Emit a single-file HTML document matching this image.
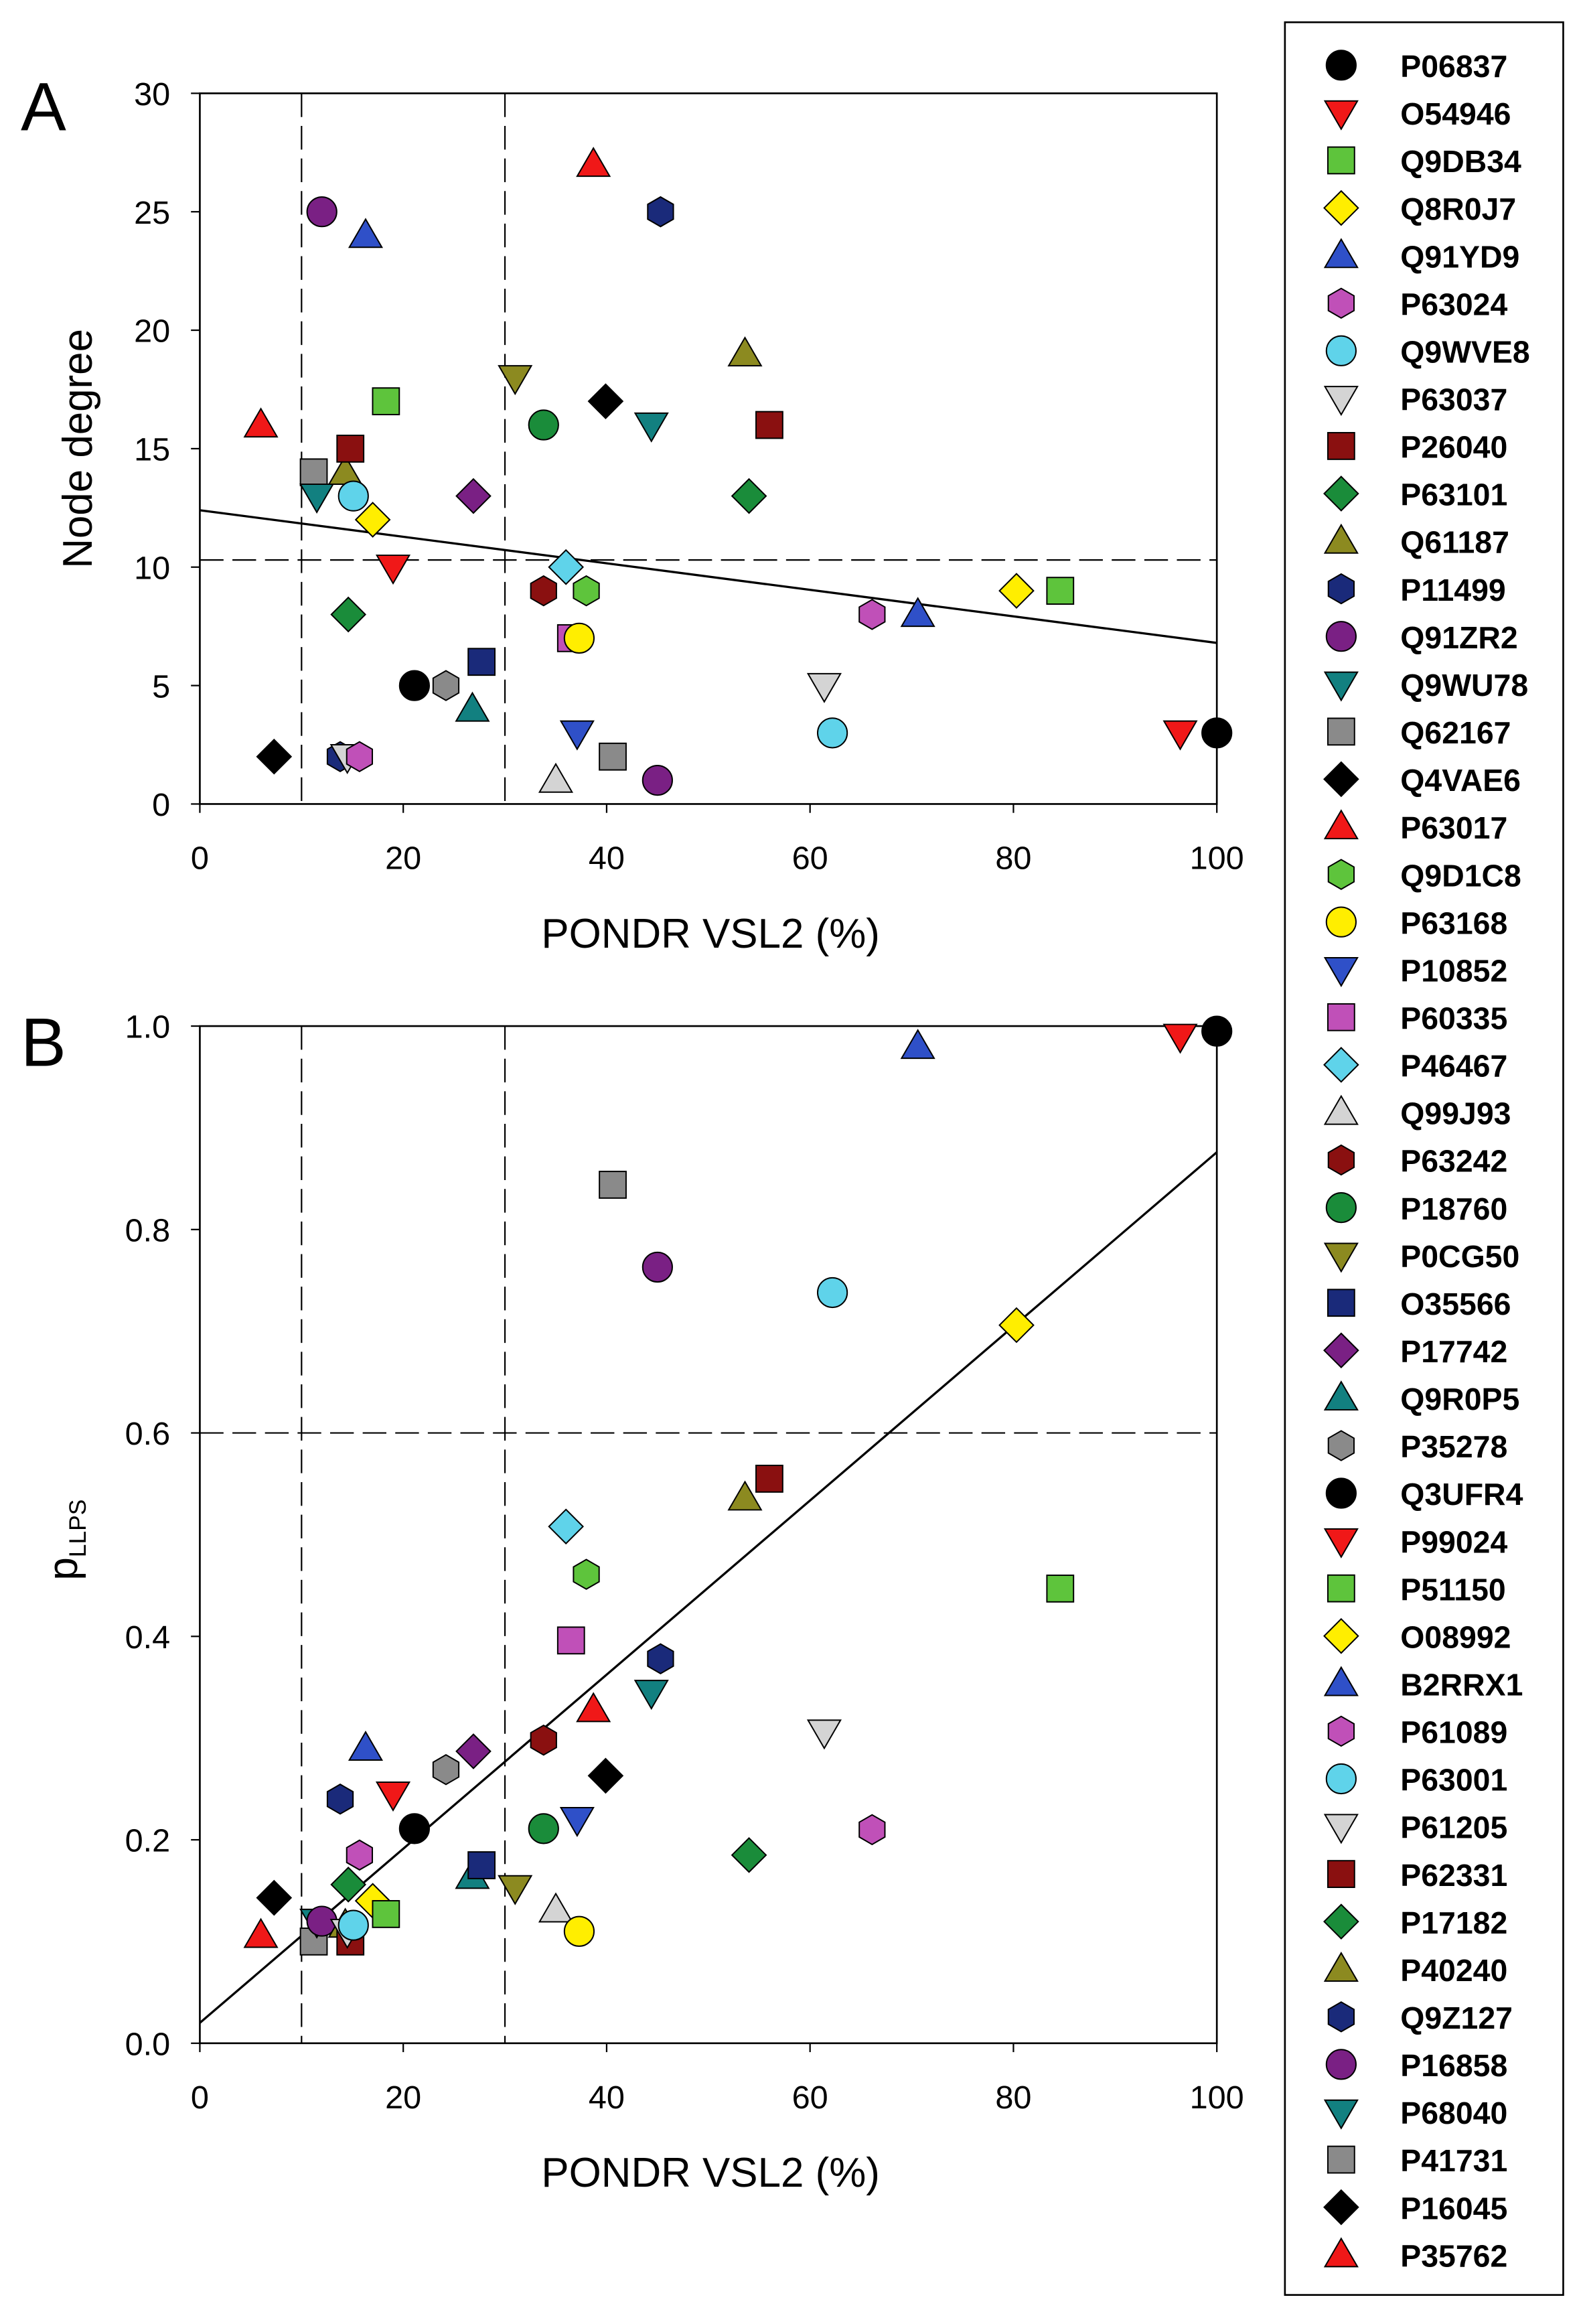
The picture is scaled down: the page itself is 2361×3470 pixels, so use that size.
<!DOCTYPE html>
<html><head><meta charset="utf-8"><style>
html,body{margin:0;padding:0;background:#fff}
svg{display:block}
text{font-family:"Liberation Sans",Arial,sans-serif}
</style></head><body>
<svg id="chart" xmlns="http://www.w3.org/2000/svg" width="2361" height="3470" viewBox="0 0 1068 1569.6">
<rect x="0" y="0" width="1068" height="1569.6" fill="#fff"/>
<g id="panelA"></g>
<g id="panelB"></g>
<g id="legend"></g>
</svg>
<script>
const ids = ["P06837","O54946","Q9DB34","Q8R0J7","Q91YD9","P63024","Q9WVE8","P63037","P26040","P63101","Q61187","P11499","Q91ZR2","Q9WU78","Q62167","Q4VAE6","P63017","Q9D1C8","P63168","P10852","P60335","P46467","Q99J93","P63242","P18760","P0CG50","O35566","P17742","Q9R0P5","P35278","Q3UFR4","P99024","P51150","O08992","B2RRX1","P61089","P63001","P61205","P62331","P17182","P40240","Q9Z127","P16858","P68040","P41731","P16045","P35762"];
const vsl2 = [21.1,19,18.3,17,16.3,15.7,15.1,14.5,14.8,14.6,14.3,13.8,12,11.5,11.2,7.3,6,38,37.3,37.1,36.5,36,35,33.8,33.8,31,27.7,26.9,26.8,24.2,100,96.4,84.6,80.3,70.6,66.1,62.2,61.4,56,54,53.6,45.3,45,44.4,40.6,39.9,38.7];
const nodeDegree = [5,10,17,12,24,2,13,2,15,8,14,2,25,13,14,2,16,9,7,3,7,10,1,9,16,18,6,13,4,5,3,3,9,9,8,8,3,5,16,13,19,25,1,16,2,17,27];
const pllps = [0.211,0.245,0.127,0.14,0.29,0.185,0.116,0.11,0.10,0.156,0.116,0.24,0.12,0.12,0.10,0.143,0.106,0.461,0.11,0.22,0.396,0.508,0.131,0.298,0.211,0.153,0.175,0.287,0.164,0.269,0.995,0.99,0.447,0.706,0.98,0.21,0.738,0.306,0.555,0.185,0.536,0.378,0.763,0.345,0.844,0.263,0.328];
const xTicks = [0,20,40,60,80,100];
const yTicksA = [0,5,10,15,20,25,30];
const yTicksB = [0,0.2,0.4,0.6,0.8,1.0];
const fitA = [12.4,6.8];   // values at x=0 and x=100
const fitB = [0.02,0.876];
const refX = [10,30];
const refYA = 10.3;
const refYB = 0.6;

const styles = [
 ["circle","#000000"],["down","#f01818"],["square","#5ec43c"],["diamond","#ffee00"],["up","#2f50c8"],
 ["hex","#c050b8"],["circle","#5fd3ea"],["down","#d4d4d4"],["square","#8a1010"],["diamond","#1a8c3a"],
 ["up","#8c8a20"],["hex","#1a2a7a"],["circle","#7a2084"],["down","#128080"],["square","#8a8a8a"],
 ["diamond","#000000"],["up","#f01818"],["hex","#5ec43c"],["circle","#ffee00"],["down","#2f50c8"],
 ["square","#c050b8"],["diamond","#5fd3ea"],["up","#d4d4d4"],["hex","#8a1010"],["circle","#1a8c3a"],
 ["down","#8c8a20"],["square","#1a2a7a"],["diamond","#7a2084"],["up","#128080"],["hex","#8a8a8a"]];
const NS="http://www.w3.org/2000/svg";
function mk(parent,tag,attrs){const e=document.createElementNS(NS,tag);for(const k in attrs)e.setAttribute(k,attrs[k]);parent.appendChild(e);return e;}
function marker(parent,shape,color,cx,cy,r){
  let e;
  if(shape==="circle") e=mk(parent,"circle",{cx:cx,cy:cy,r:r});
  else if(shape==="square") e=mk(parent,"rect",{x:cx-r*0.9,y:cy-r*0.9,width:r*1.8,height:r*1.8});
  else if(shape==="diamond") e=mk(parent,"polygon",{points:`${cx},${cy-r*1.15} ${cx+r*1.15},${cy} ${cx},${cy+r*1.15} ${cx-r*1.15},${cy}`});
  else if(shape==="up") e=mk(parent,"polygon",{points:`${cx},${cy-r*1.1} ${cx+r*1.1},${cy+r*0.8} ${cx-r*1.1},${cy+r*0.8}`});
  else if(shape==="down") e=mk(parent,"polygon",{points:`${cx},${cy+r*1.1} ${cx+r*1.1},${cy-r*0.8} ${cx-r*1.1},${cy-r*0.8}`});
  else {let p=[];for(let k=0;k<6;k++){const a=Math.PI/3*k+Math.PI/6;p.push((cx+r*Math.cos(a)).toFixed(2)+","+(cy+r*Math.sin(a)).toFixed(2));}e=mk(parent,"polygon",{points:p.join(" ")});}
  e.setAttribute("fill",color);e.setAttribute("stroke","#000");e.setAttribute("stroke-width","0.9");
  return e;
}
const L=135,R=822;
const xs=v=>L+(R-L)*v/100;
function panel(g,top,bottom,ymax,yTicks,yfmt,yvals,fit,refY,title,letter,letterY,ylabelFn){
  const ys=v=>bottom-(bottom-top)*v/ymax;
  mk(g,"rect",{x:L,y:top,width:R-L,height:bottom-top,fill:"none",stroke:"#000","stroke-width":1.2});
  // dashed refs
  refX.forEach(v=>{const l=mk(g,"line",{x1:xs(v),x2:xs(v),y1:top,y2:bottom,stroke:"#000","stroke-width":1,"stroke-dasharray":"16 6"});});
  const h=mk(g,"line",{x1:L,x2:R,y1:ys(refY),y2:ys(refY),stroke:"#000","stroke-width":1,"stroke-dasharray":"16 6"});
  
  xTicks.forEach(v=>{mk(g,"line",{x1:xs(v),x2:xs(v),y1:bottom,y2:bottom+6,stroke:"#000"});
    const t=mk(g,"text",{x:xs(v),y:bottom+44,"font-size":22,"text-anchor":"middle"});t.textContent=v;
    });
  yTicks.forEach(v=>{mk(g,"line",{x1:L-6,x2:L,y1:ys(v),y2:ys(v),stroke:"#000"});
    const t=mk(g,"text",{x:L-20,y:ys(v)+8,"font-size":22,"text-anchor":"end"});t.textContent=yfmt(v);
    });
  const fl=mk(g,"line",{x1:xs(0),y1:ys(fit[0]),x2:xs(100),y2:ys(fit[1]),stroke:"#000","stroke-width":1.5});
  
  const xt=mk(g,"text",{x:480,y:bottom+97,"font-size":28,"text-anchor":"middle"});xt.textContent=title;
  
  const lt=mk(g,"text",{x:14,y:letterY,"font-size":46});lt.textContent=letter;
  
  ylabelFn(g);
  for(let i=ids.length-1;i>=0;i--){const s=styles[i<30?i:i-30];
    const m=marker(g,s[0],s[1],xs(vsl2[i]),ys(yvals[i]),10);
    
    }
}
panel(document.getElementById("panelA"),63,543,30,yTicksA,v=>v,nodeDegree,fitA,refYA,"PONDR VSL2 (%)","A",88,g=>{
  const t=mk(g,"text",{x:0,y:0,"font-size":28,"text-anchor":"middle",transform:"translate(62,303) rotate(-90)"});t.textContent="Node degree";
  });
panel(document.getElementById("panelB"),693,1380,1,yTicksB,v=>v.toFixed(1),pllps,fitB,refYB,"PONDR VSL2 (%)","B",720,g=>{
  const t=mk(g,"text",{x:0,y:0,"font-size":28,"text-anchor":"middle",transform:"translate(52,1040) rotate(-90)"});
  t.innerHTML='p<tspan font-size="16" dy="6">LLPS</tspan>';
  });
// legend
const lg=document.getElementById("legend");
const box=mk(lg,"rect",{x:868,y:15,width:188,height:1535,fill:"#fff",stroke:"#000","stroke-width":1.2});

ids.forEach((id,i)=>{const y=44+i*32.15;const s=styles[i<30?i:i-30];
  const g=mk(lg,"g",{});
  
  
  marker(g,s[0],s[1],906,y,10);
  const t=mk(g,"text",{x:946,y:y+8,"font-size":21,"font-weight":"bold"});t.textContent=id;});
</script>
</body></html>
